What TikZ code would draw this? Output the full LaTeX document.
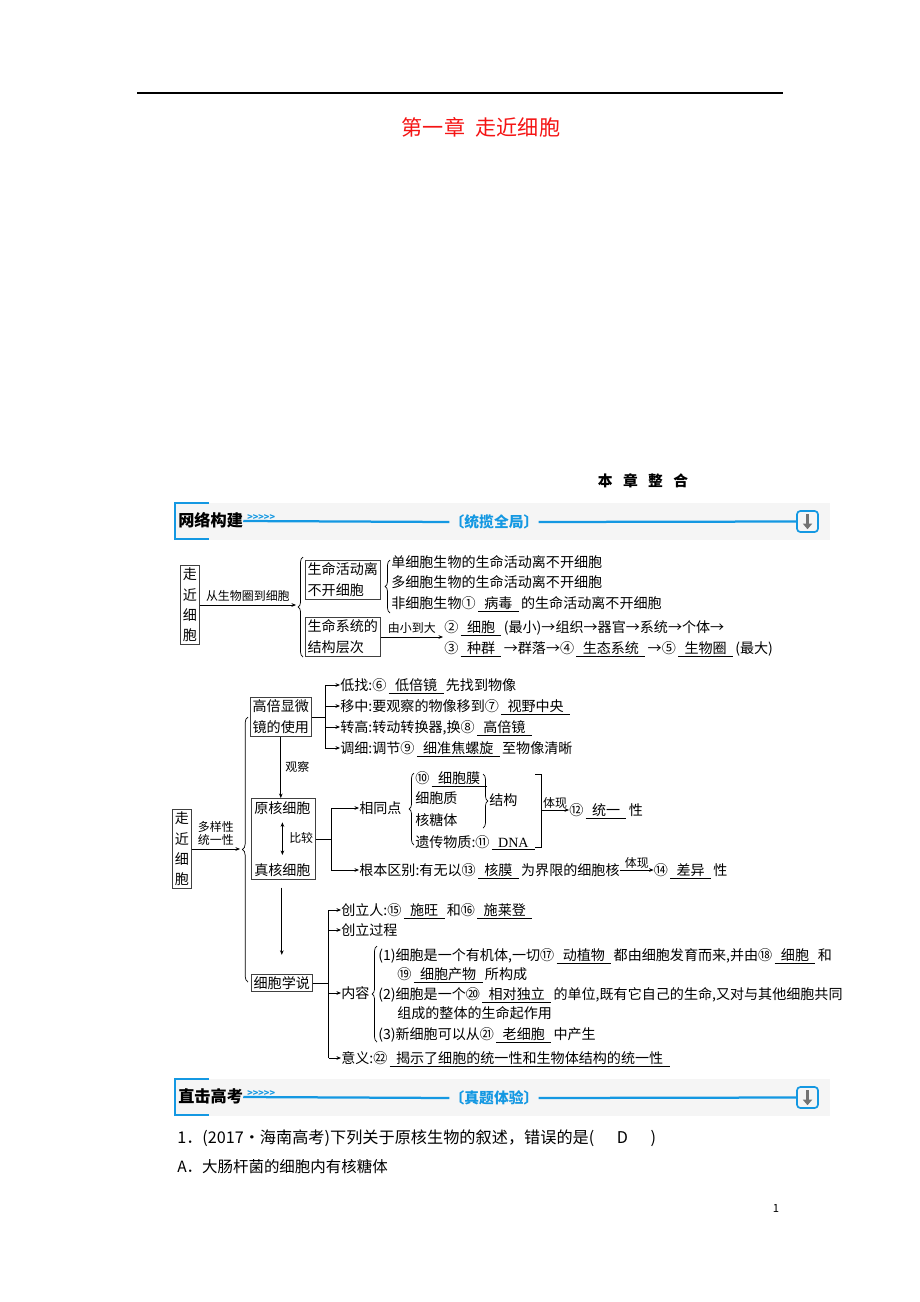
\documentclass[tikz,border=0pt]{standalone}
\usepackage{fontspec}
\setmainfont{Noto Sans CJK SC}
\newfontfamily\serifdna{Liberation Serif}
\usepackage{tikz}
\usetikzlibrary{positioning, fit, arrows.meta, decorations.pathreplacing}
\definecolor{barblue}{RGB}{20,152,226}
\definecolor{titlered}{RGB}{245,20,20}
\newcommand{\ans}[1]{\,\underline{\hspace{0.45em}#1\hspace{0.45em}}\,}
\tikzset{cellbox/.style={
        draw=black!75,
        line width=0.6pt,
        inner sep=1.6pt,
        align=left,
        font=\fontsize{10}{15}\selectfont
}}
\tikzset{vbox/.style={
        draw=black!75,
        line width=0.6pt,
        inner sep=1.6pt,
        align=center,
        font=\fontsize{10}{14.5}\selectfont
}}
\tikzset{txt/.style={
        anchor=west,
        inner sep=0pt,
        text height=8.8pt,
        text depth=1.2pt,
        font=\fontsize{10}{12}\selectfont
}}
\tikzset{lbl/.style={inner sep=0pt, font=\fontsize{8.5}{9.5}\selectfont}}
\tikzset{flowedge/.style={draw, line width=0.5pt, -{Stealth[length=3.2pt,width=2.6pt]}}}
\tikzset{twoway/.style={draw, line width=0.5pt, {Stealth[length=3.2pt,width=2.6pt]}-{Stealth[length=3.2pt,width=2.6pt]}}}
\tikzset{plainedge/.style={draw, line width=0.5pt}}
\tikzset{lbrace/.style={decorate, decoration={brace, amplitude=3.5pt}, line width=0.5pt}}
\tikzset{barline/.style={draw=barblue, line width=1.6pt}}

\begin{document}
\begin{tikzpicture}[x=0.025cm, y=-0.025cm, every node/.style={font=\fontsize{10}{12}\selectfont}]
\useasboundingbox (0,0) rectangle (920,1302);
\fill[white] (0,0) rectangle (920,1302);

\draw[line width=1pt] (137,93) -- (783,93);
\node[text=titlered, font=\fontsize{15}{18}\selectfont] (title) at (481,127) {第一章\hspace{0.5em}走近细胞};
\node[font=\bfseries\fontsize{10.5}{12}\selectfont] (summary) at (643,481) {本\hspace{0.7em}章\hspace{0.7em}整\hspace{0.7em}合};

\fill[black!4] (174,503) rectangle (830,540);
\draw[draw=barblue, line width=2pt] (209,503) -- (175,503) -- (175,539) -- (209,539);
\node[txt, font=\bfseries\fontsize{11.5}{13}\selectfont] (hd1) at (178,521) {网络构建};
\node[txt, text=barblue, font=\bfseries\fontsize{6.5}{8}\selectfont] (hd1a) at (247,515) {>{}>{}>{}>{}>};
\node[inner sep=0pt, text=barblue, font=\bfseries\fontsize{10.5}{12}\selectfont] (hd1m) at (494,522) {〔统揽全局〕};
\node[draw=barblue, line width=1.2pt, rounded corners=2.5pt, minimum size=15pt, inner sep=0pt] (hd1b) at (807.5,521.5) {};
\draw[barline] (hd1.east) -- (hd1m.west);
\draw[barline] (hd1m.east) -- (hd1b.west);
\draw[black!55, line width=1.8pt, -{Triangle[length=4pt,width=6.5pt]}] ([yshift=5pt]hd1b.center) -- ([yshift=-5.5pt]hd1b.center);

\node[vbox] (zj1) at (190,605) {走\\近\\细\\胞};
\coordinate (tip1) at (296,605);
\draw[flowedge] (zj1.east) -- node[lbl, above=2pt] {从生物圈到细胞} (tip1);
\draw[lbrace] (303,657) -- (303,557);
\node[cellbox, anchor=west] (lf1) at (305,580) {生命活动离\\不开细胞};
\node[cellbox, anchor=west] (lf2) at (305,637) {生命系统的\\结构层次};
\draw[lbrace] (390,613) -- (390,560);
\node[txt] (ex1) at (391,562) {单细胞生物的生命活动离不开细胞};
\node[txt] (ex2) at (391,582) {多细胞生物的生命活动离不开细胞};
\node[txt] (ex3) at (391,603) {非细胞生物①\ans{病毒}的生命活动离不开细胞};
\coordinate (tip2) at (443,637);
\draw[flowedge] (lf2.east) -- node[lbl, above=2pt] {由小到大} (tip2);
\node[txt] (lv1) at (444,627) {②\ans{细胞}(最小)→组织→器官→系统→个体→};
\node[txt] (lv2) at (444,648) {③\ans{种群}→群落→④\ans{生态系统}→⑤\ans{生物圈}(最大)};

\node[vbox] (zj2) at (182,849) {走\\近\\细\\胞};
\coordinate (tip3) at (240,849);
\draw[flowedge] (zj2.east) -- node[lbl, align=center, above=2pt] {多样性\\统一性} (tip3);
\draw[lbrace, decoration={brace, amplitude=4pt}] (248,982) -- (248,717);
\node[cellbox, anchor=west] (hb) at (250,717) {高倍显微\\镜的使用};
\node[txt] (yh) at (254,808) {原核细胞};
\node[txt] (zh) at (254,870) {真核细胞};
\node[lbl, anchor=west] (bj) at (289,838) {比较};
\node[cellbox, fit=(yh)(zh)(bj)] (cmp) {};
\draw[twoway, shorten <=5pt, shorten >=5.5pt] (yh.south) -- (zh.north);
\draw[flowedge] (hb.south) -- node[lbl, right=3pt] {观察} (hb.south |- cmp.north);
\node[cellbox, anchor=west] (xb) at (251,983) {细胞学说};
\draw[flowedge, shorten <=5.5pt, shorten >=13.5pt] (xb.north |- cmp.south) -- (xb.north);

\coordinate (j1) at (325,717);
\draw[plainedge] (hb.east) -- (j1);
\node[txt] (m1) at (340,685) {低找:⑥\ans{低倍镜}先找到物像};
\node[txt] (m2) at (340,706) {移中:要观察的物像移到⑦\ans{视野中央}};
\node[txt] (m3) at (340,727) {转高:转动转换器,换⑧\ans{高倍镜}};
\node[txt] (m4) at (340,748) {调细:调节⑨\ans{细准焦螺旋}至物像清晰};
\draw[plainedge] (j1 |- m1) -- (j1 |- m4);
\draw[flowedge] (j1 |- m1) -- (m1.west);
\draw[flowedge] (j1 |- m2) -- (m2.west);
\draw[flowedge] (j1 |- m3) -- (m3.west);
\draw[flowedge] (j1 |- m4) -- (m4.west);

\draw[plainedge] (cmp.east) -- ++(15,0) coordinate (j2);
\node[txt] (same) at (359,808) {相同点};
\node[txt] (diff) at (359,870) {根本区别:有无以⑬\ans{核膜}为界限的细胞核};
\node[txt, right=24pt of diff] (diff2) {⑭\ans{差异}性};
\draw[plainedge] (j2 |- same) -- (j2 |- diff);
\draw[flowedge] (j2 |- same) -- (same.west);
\draw[flowedge] (j2 |- diff) -- (diff.west);
\draw[flowedge] (diff) -- node[lbl, above=1pt] {体现} (diff2);
\draw[lbrace] (414,845) -- (414,773);
\node[txt] (s1) at (415,778) {⑩\ans{细胞膜}};
\node[txt] (s2) at (415,798) {细胞质};
\node[txt] (s3) at (415,820) {核糖体};
\node[txt] (s4) at (415,842) {遗传物质:⑪\ans{\serifdna DNA}};
\draw[lbrace] (483,774) -- (483,828);
\node[txt] (jg) at (489,800) {结构};
\draw[plainedge] (535,774) -- (541,774) -- (541,847) -- (535,847);
\coordinate (brk) at (541,810);
\node[txt] (ty1) at (569,810) {⑫\ans{统一}性};
\draw[flowedge] (brk) -- node[lbl, above=1pt] {体现} (ty1.west);

\draw[plainedge] (xb.east) -- ++(16,0) coordinate (j3);
\node[txt] (p1) at (341,910) {创立人:⑮\ans{施旺}和⑯\ans{施莱登}};
\node[txt] (p2) at (341,930) {创立过程};
\node[txt] (p3) at (341,993) {内容};
\node[txt] (p4) at (341,1058) {意义:㉒\ans{揭示了细胞的统一性和生物体结构的统一性}};
\draw[plainedge] (j3 |- p1) -- (j3 |- p4);
\draw[flowedge] (j3 |- p1) -- (p1.west);
\draw[flowedge] (j3 |- p2) -- (p2.west);
\draw[flowedge] (j3 |- p3) -- (p3.west);
\draw[flowedge] (j3 |- p4) -- (p4.west);
\draw[lbrace] (377,1042) -- (377,946);
\node[txt] (c1) at (378,955) {(1)细胞是一个有机体,一切⑰\ans{动植物}都由细胞发育而来,并由⑱\ans{细胞}和};
\node[txt] (c2) at (397,974) {⑲\ans{细胞产物}所构成};
\node[txt] (c3) at (378,994) {(2)细胞是一个⑳\ans{相对独立}的单位,既有它自己的生命,又对与其他细胞共同};
\node[txt] (c4) at (397,1013) {组成的整体的生命起作用};
\node[txt] (c5) at (378,1034) {(3)新细胞可以从㉑\ans{老细胞}中产生};

\fill[black!4] (174,1079) rectangle (830,1116);
\draw[draw=barblue, line width=2pt] (209,1079) -- (175,1079) -- (175,1115) -- (209,1115);
\node[txt, font=\bfseries\fontsize{11.5}{13}\selectfont] (hd2) at (178,1097) {直击高考};
\node[txt, text=barblue, font=\bfseries\fontsize{6.5}{8}\selectfont] (hd2a) at (247,1091) {>{}>{}>{}>{}>};
\node[inner sep=0pt, text=barblue, font=\bfseries\fontsize{10.5}{12}\selectfont] (hd2m) at (494,1098) {〔真题体验〕};
\node[draw=barblue, line width=1.2pt, rounded corners=2.5pt, minimum size=15pt, inner sep=0pt] (hd2b) at (807.5,1097.5) {};
\draw[barline] (hd2.east) -- (hd2m.west);
\draw[barline] (hd2m.east) -- (hd2b.west);
\draw[black!55, line width=1.8pt, -{Triangle[length=4pt,width=6.5pt]}] ([yshift=5pt]hd2b.center) -- ([yshift=-5.5pt]hd2b.center);

\node[txt, font=\fontsize{11.5}{13}\selectfont] (q1) at (177,1138) {1．(2017·海南高考)下列关于原核生物的叙述，错误的是(\hspace{1.4em}D\hspace{1.4em})};
\node[txt, font=\fontsize{11}{13}\selectfont] (qa) at (177,1167) {A．大肠杆菌的细胞内有核糖体};
\node[font=\fontsize{8}{9}\selectfont] (pg) at (776,1208) {1};
\end{tikzpicture}
\end{document}
